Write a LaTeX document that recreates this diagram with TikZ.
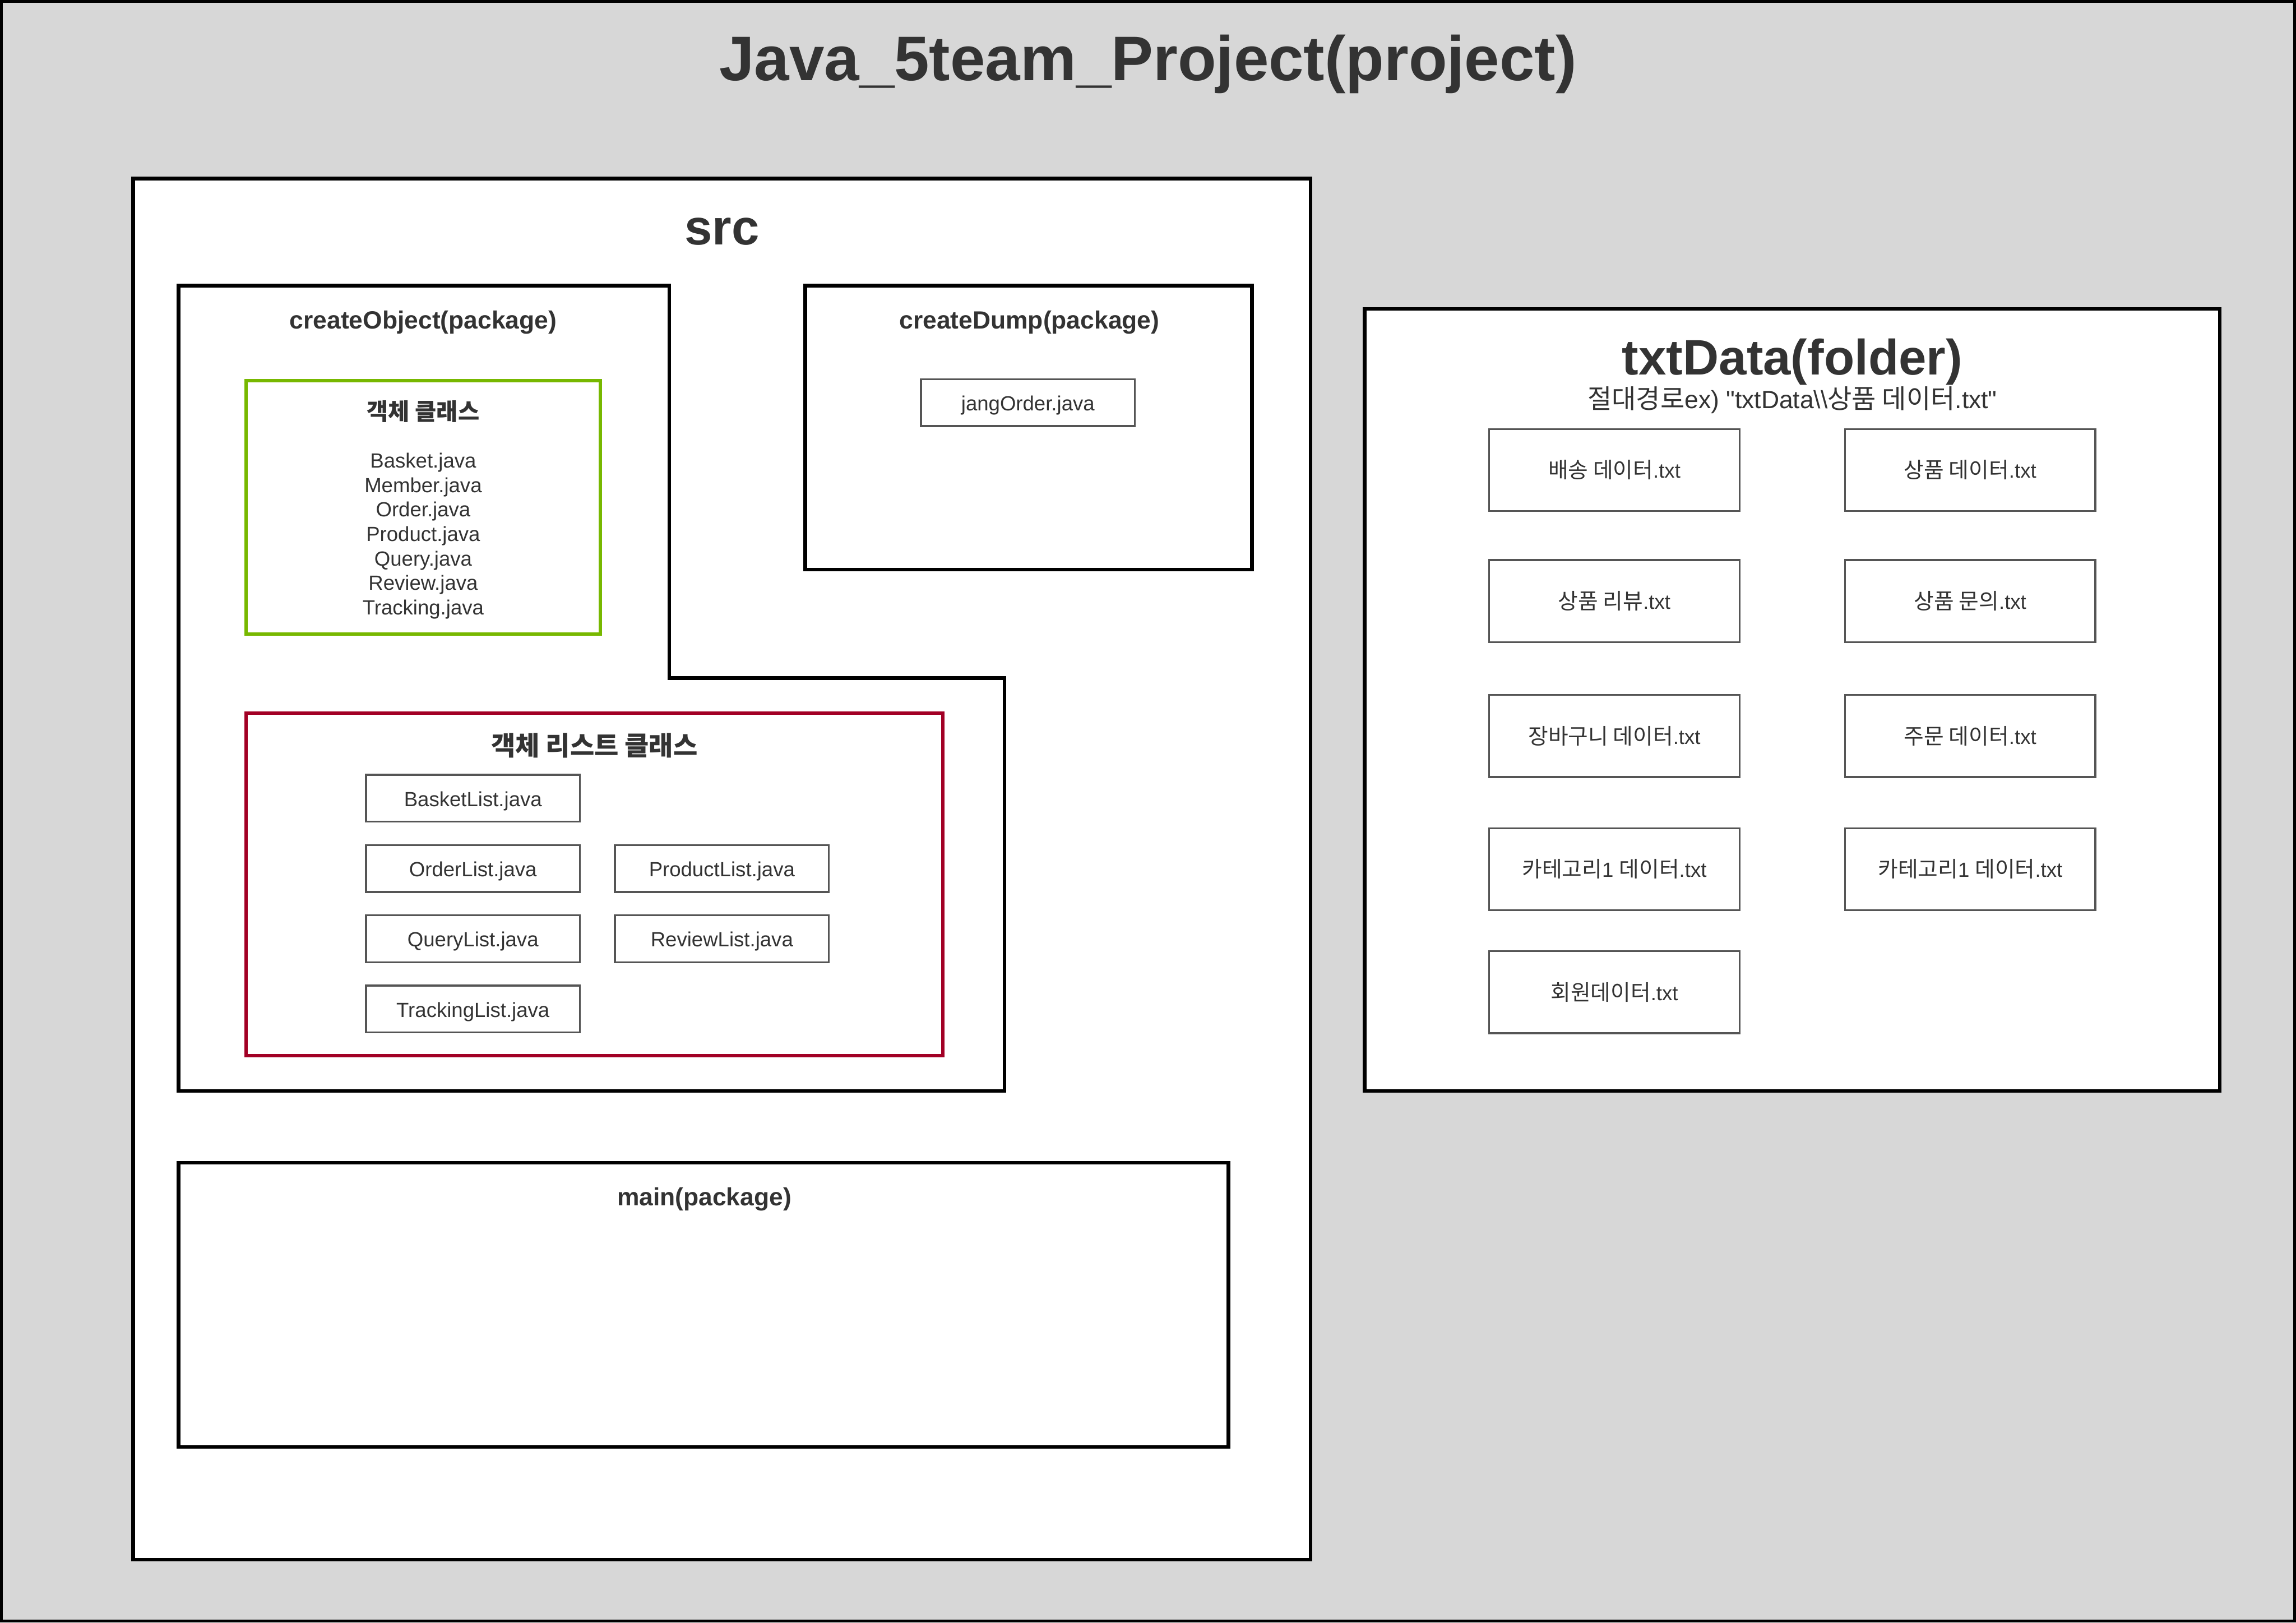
\documentclass[tikz,border=0pt]{standalone}
\usepackage{fontspec}
\setmainfont{Liberation Sans}
\newfontfamily\kr[Scale=1.06]{Noto Sans CJK KR}
\usetikzlibrary{positioning}
\definecolor{txtgray}{HTML}{333333}
\definecolor{boxgray}{HTML}{555555}
\definecolor{bggray}{HTML}{D7D7D7}
\definecolor{objgreen}{HTML}{77B800}
\definecolor{listred}{HTML}{A20025}
\tikzset{
	frame/.style = {draw=black, line width=2.5pt, fill=white, anchor=north west, inner sep=0pt, outer sep=0pt},
	classbox/.style = {frame, line width=2.3pt},
	pkglabel/.style = {text=txtgray, font=\fontsize{17}{20}\selectfont\bfseries},
	bigtitle/.style = {text=txtgray, anchor=base, font=\fontsize{34}{40}\selectfont\bfseries},
	filebox/.style = {draw=boxgray, line width=1.3pt, fill=white, text=txtgray, minimum width=146pt, minimum height=32pt, inner sep=0pt, outer sep=0pt, text height=11pt, text depth=0pt, font=\fontsize{14}{17}\selectfont},
	txtbox/.style = {filebox, minimum width=171pt, minimum height=56pt}
}

\begin{document}
\begin{tikzpicture}[x=1pt, y=-1pt]
	
	% background of the whole project
	\path[use as bounding box] (0,0) rectangle (1568,1108);
	\draw[fill=bggray, line width=2pt] (1,1) rectangle (1567,1107);
	\node[bigtitle, font=\fontsize{43}{50}\selectfont\bfseries] (project) at (784,55) {Java\_5team\_Project(project)};
	
	% src folder
	\node[frame, minimum width=804pt, minimum height=943pt] (src) at (91,122) {};
	\node[bigtitle] (srctitle) at (493,167) {src};
	
	% createObject package, L-shaped
	\draw[frame] (122,195) -- (457,195) -- (457,463) -- (686,463) -- (686,745) -- (122,745) -- cycle;
	\node[pkglabel] (objpkg) at (289,220) {createObject(package)};
	
	\node[classbox, draw=objgreen, minimum width=242pt, minimum height=173pt] (objcls) at (168,260) {};
	\node[pkglabel, font=\fontsize{15}{18}\selectfont\kr\bfseries] (objtitle) at (289,281) {객체 클래스};
	\node[text=txtgray, align=center, font=\fontsize{14}{16.7}\selectfont] (objfiles) at (289,366)
		{Basket.java\\Member.java\\Order.java\\Product.java\\Query.java\\Review.java\\Tracking.java};
	
	\node[classbox, draw=listred, minimum width=476pt, minimum height=234pt] (listcls) at (168,487) {};
	\node[pkglabel, font=\fontsize{17}{20}\selectfont\kr\bfseries] (listtitle) at (406,509) {객체 리스트 클래스};
	
	\node[filebox] (basket) at (323,545) {BasketList.java};
	\node[filebox, below=16pt of basket] (order) {OrderList.java};
	\node[filebox, right=24pt of order] (product) {ProductList.java};
	\node[filebox, below=16pt of order] (query) {QueryList.java};
	\node[filebox, right=24pt of query] (review) {ReviewList.java};
	\node[filebox, below=16pt of query] (tracking) {TrackingList.java};
	
	% createDump package
	\node[frame, minimum width=305pt, minimum height=194pt] (dump) at (550,195) {};
	\node[pkglabel] (dumppkg) at (703,220) {createDump(package)};
	\node[filebox] (jang) at (702,275) {jangOrder.java};
	
	% main package
	\node[frame, minimum width=717pt, minimum height=194pt] (mainpkg) at (122,794) {};
	\node[pkglabel] (mainlabel) at (481,819) {main(package)};
	
	% txtData folder
	\node[frame, minimum width=584pt, minimum height=534pt] (txtdata) at (932,211) {};
	\node[bigtitle] (txttitle) at (1224,256) {txtData(folder)};
	\node[text=txtgray, anchor=base, font=\fontsize{17}{20}\selectfont] (txtpath) at (1224,279)
		{{\kr 절대경로}ex) \textquotedbl txtData\textbackslash\textbackslash{\kr 상품 데이터}.txt\textquotedbl};
	
	\node[txtbox] (ship) at (1102.5,321) {{\kr 배송 데이터}.txt};
	\node[txtbox, right=72pt of ship] (goods) {{\kr 상품 데이터}.txt};
	\node[txtbox] (review) at (1102.5,410.5) {{\kr 상품 리뷰}.txt};
	\node[txtbox, right=72pt of review] (qna) {{\kr 상품 문의}.txt};
	\node[txtbox] (cart) at (1102.5,502.5) {{\kr 장바구니 데이터}.txt};
	\node[txtbox, right=72pt of cart] (orders) {{\kr 주문 데이터}.txt};
	\node[txtbox] (cat1) at (1102.5,593.5) {{\kr 카테고리}1 {\kr 데이터}.txt};
	\node[txtbox, right=72pt of cat1] (cat2) {{\kr 카테고리}1 {\kr 데이터}.txt};
	\node[txtbox] (member) at (1102.5,677.5) {{\kr 회원데이터}.txt};
	
\end{tikzpicture}
\end{document}
